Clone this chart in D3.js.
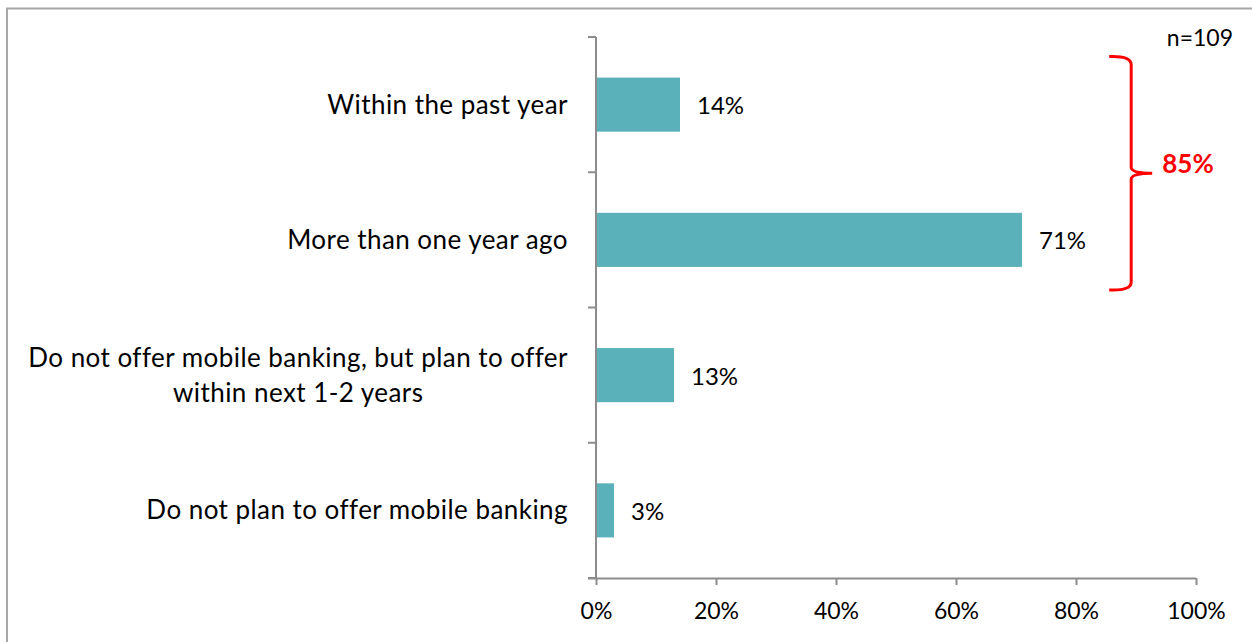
<!DOCTYPE html>
<html>
<head>
<meta charset="utf-8">
<script src="https://cdn.jsdelivr.net/npm/d3@7"></script>
<style>
  html, body { margin: 0; padding: 0; background: #fff; }
  svg { display: block; }
  text { font-family: "Lato", "Open Sans", sans-serif; fill: #000; }
</style>
</head>
<body>
<svg id="chart" width="1252" height="642"></svg>
<script>
// Survey responses: when mobile banking was first offered
const categories = [
  ["Within the past year"],
  ["More than one year ago"],
  ["Do not offer mobile banking, but plan to offer", "within next 1-2 years"],
  ["Do not plan to offer mobile banking"]
];
const values = [14, 71, 13, 3];
const xTicks = [0, 20, 40, 60, 80, 100];
const sampleNote = "n=109";

const svg = d3.select("#chart");

// outer frame (left and top edges visible)
svg.append("path")
  .attr("d", "M7,642 V8.5 H1252")
  .attr("fill", "none")
  .attr("stroke", "#a6a6a6")
  .attr("stroke-width", 2);

const x0 = 596, x1 = 1196, yTop = 37, yBot = 578;
const keys = categories.map((c, i) => i);

const x = d3.scaleLinear().domain([0, 100]).range([x0, x1]);
const y = d3.scaleBand().domain(keys).range([yTop, yBot]).paddingInner(0.6).paddingOuter(0.3);
const step = y.step();

const axisColor = "#8c8c8c";

// bars
svg.append("g").selectAll("rect")
  .data(values)
  .join("rect")
  .attr("x", x(0))
  .attr("y", (d, i) => y(i))
  .attr("width", d => x(d) - x(0))
  .attr("height", y.bandwidth())
  .attr("fill", "#5bb1b9");

// value labels
svg.append("g").selectAll("text")
  .data(values)
  .join("text")
  .attr("x", d => x(d) + 17)
  .attr("y", (d, i) => y(i) + y.bandwidth() / 2 + 1)
  .attr("dy", "0.35em")
  .attr("font-size", 24)
  .text(d => d + "%");

// x axis
const xAxis = d3.axisBottom(x)
  .tickValues(xTicks)
  .tickFormat(d => d + "%")
  .tickSize(7)
  .tickSizeOuter(0)
  .tickPadding(18);
const gx = svg.append("g").attr("transform", `translate(0,${yBot})`).call(xAxis);
gx.select(".domain").attr("d", `M${x0 - 8},0.5H${x1}`).attr("stroke", axisColor).attr("stroke-width", 2);
gx.selectAll(".tick line").attr("stroke", axisColor).attr("stroke-width", 2);
gx.selectAll(".tick text").attr("font-size", 23).attr("font-family", "Lato, 'Open Sans', sans-serif").attr("fill", "#000");

// y axis: ticks at category boundaries
const boundaries = d3.range(keys.length + 1).map(i => yTop + i * step);
svg.append("line")
  .attr("x1", x0).attr("x2", x0)
  .attr("y1", yTop).attr("y2", yBot)
  .attr("stroke", axisColor).attr("stroke-width", 2);
svg.append("g").selectAll("line")
  .data(boundaries)
  .join("line")
  .attr("x1", x0 - 8).attr("x2", x0)
  .attr("y1", d => d).attr("y2", d => d)
  .attr("stroke", axisColor).attr("stroke-width", 2);

// category labels (multi-line labels are centred on their widest line)
const labelRight = 568;
categories.forEach((lines, i) => {
  const cy = y(i) + y.bandwidth() / 2;
  const lh = 35;
  const g = svg.append("g");
  const t = g.append("text").attr("font-size", 26).attr("letter-spacing", 0.45);
  lines.forEach((line, j) => {
    t.append("tspan")
      .attr("x", 0)
      .attr("y", cy + (j - (lines.length - 1) / 2) * lh)
      .attr("dy", "0.35em")
      .attr("text-anchor", "middle")
      .text(line);
  });
  const w = t.node().getBBox().width;
  t.selectAll("tspan").attr("x", labelRight - w / 2);
});

// sample size note
svg.append("text")
  .attr("x", 1233).attr("y", 38)
  .attr("dy", "0.35em")
  .attr("text-anchor", "end")
  .attr("font-size", 23)
  .text(sampleNote);

// red bracket grouping the first two responses
const total = values[0] + values[1];
const bTop = y(0) - 21, bBot = y(1) + y.bandwidth() + 23;
const bMid = (bTop + bBot) / 2;
const bx = x(89.2), bl = bx - 22, tip = bx + 21;
const bracket = d3.path();
bracket.moveTo(bl, bTop);
bracket.quadraticCurveTo(bx, bTop - 1, bx, bTop + 8);
bracket.lineTo(bx, bMid - 6);
bracket.quadraticCurveTo(bx, bMid, tip, bMid);
bracket.quadraticCurveTo(bx, bMid, bx, bMid + 6);
bracket.lineTo(bx, bBot - 8);
bracket.quadraticCurveTo(bx, bBot + 1, bl, bBot);
svg.append("path")
  .attr("d", bracket.toString())
  .attr("fill", "none")
  .attr("stroke", "#ff0000")
  .attr("stroke-width", 3);

svg.append("text")
  .attr("x", 1188).attr("y", bMid - 9)
  .attr("dy", "0.35em")
  .attr("text-anchor", "middle")
  .attr("font-size", 26)
  .attr("font-weight", "bold")
  .style("fill", "#ff0000")
  .text(total + "%");
</script>
</body>
</html>
